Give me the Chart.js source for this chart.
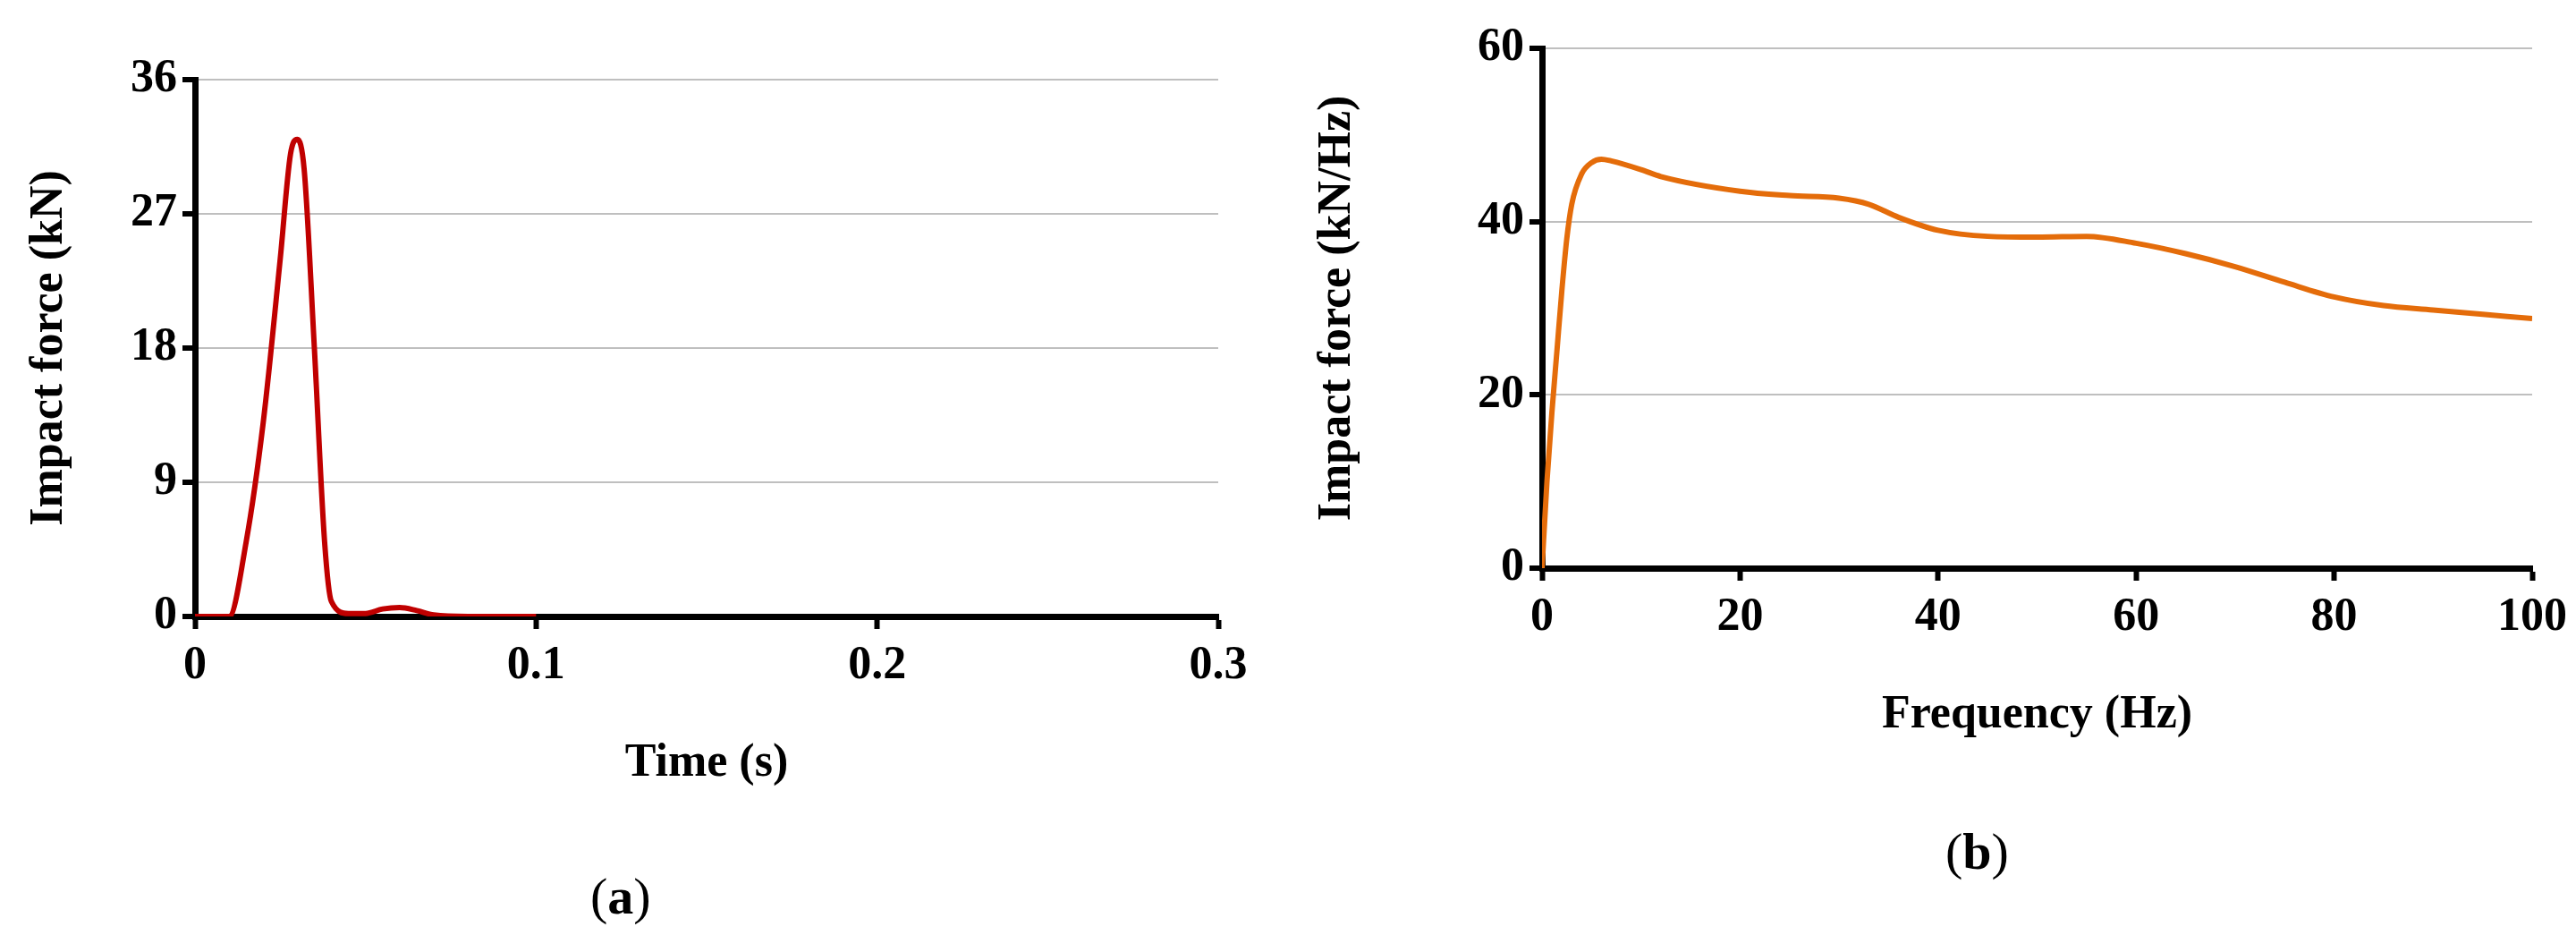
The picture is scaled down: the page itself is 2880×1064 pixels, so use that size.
<!DOCTYPE html>
<html>
<head>
<script src="https://cdn.jsdelivr.net/npm/chart.js@4"></script>
<style>
body{margin:0;background:#fff;width:2880px;height:1064px;position:relative;overflow:hidden}
.pane{position:absolute;top:0;width:1440px;height:1064px}
.cap{position:absolute;font:58px "Liberation Serif";color:#000}
</style>
</head>
<body>
<div class="pane" style="left:0"><canvas id="ca"></canvas></div>
<div class="pane" style="left:1440px"><canvas id="cb"></canvas></div>
<div class="cap" style="left:660px;top:968px">(<b>a</b>)</div>
<div class="cap" style="left:2175px;top:918px">(<b>b</b>)</div>
<script>
// panel (a): time history
const timeS = [0, 0.01, 0.015, 0.02, 0.025, 0.028, 0.03, 0.032, 0.035, 0.038, 0.04, 0.045, 0.05, 0.055, 0.06, 0.065, 0.07, 0.08, 0.1];
const forceKN = [0, 0, 5, 13, 24, 31, 32, 30, 18, 5, 1, 0.2, 0.2, 0.5, 0.6, 0.4, 0.1, 0, 0];
const timeTicks = [0, 0.1, 0.2, 0.3];
const forceTicks = [0, 9, 18, 27, 36];

// panel (b): spectrum
const freqHz = [0, 0.5, 1, 1.5, 2, 2.5, 3, 4, 5, 6, 7, 10, 12, 20, 25, 30, 33, 36, 40, 45, 50, 55, 60, 65, 70, 75, 80, 85, 90, 95, 100];
const spectrum = [0, 10, 18, 25, 32, 38, 42, 45.5, 46.8, 47.2, 47, 46, 45.2, 43.5, 43, 42.7, 42, 40.5, 39, 38.3, 38.2, 38.3, 37.5, 36.3, 34.8, 33, 31.3, 30.3, 29.8, 29.3, 28.8];
const freqTicks = [0, 20, 40, 60, 80, 100];
const specTicks = [0, 20, 40, 60];

Chart.defaults.font.family = '"Liberation Serif"';
Chart.defaults.font.weight = 'bold';
Chart.defaults.font.size = 52;
Chart.defaults.color = '#000';

function makeChart(id, xs, ys, color, xr, yr, xT, yT, xTitle, yTitle, pad, yW) {
	return new Chart(document.getElementById(id), {
		type: 'scatter',
		data: {datasets: [{
			data: xs.map((x, i) => ({x: x, y: ys[i]})),
			showLine: true, borderColor: color, borderWidth: 6,
			pointRadius: 0, cubicInterpolationMode: 'monotone'
		}]},
		options: {
			responsive: true, maintainAspectRatio: false, animation: false,
			layout: {padding: pad},
			plugins: {legend: {display: false}, tooltip: {enabled: false}},
			scales: {
				x: {
					type: 'linear', min: xr[0], max: xr[1],
					afterBuildTicks: a => { a.ticks = xT.map(v => ({value: v})); },
					afterFit: a => { a.height = 200; },
					border: {color: '#000', width: 7},
					grid: {drawOnChartArea: false, tickLength: 14, tickColor: '#000', tickWidth: 6},
					ticks: {padding: 10},
					title: {display: true, text: xTitle, padding: {top: 26}}
				},
				y: {
					min: yr[0], max: yr[1],
					afterBuildTicks: a => { a.ticks = yT.map(v => ({value: v})); },
					afterFit: a => { a.width = yW; },
					border: {color: '#000', width: 7},
					grid: {color: '#bfbfbf', lineWidth: 2, tickLength: 14, tickColor: '#000', tickWidth: 6},
					ticks: {padding: 6},
					title: {display: true, text: yTitle, padding: {bottom: 14}}
				}
			}
		}
	});
}

makeChart('ca', timeS, forceKN, '#c00000', [0, 0.3], [0, 36], timeTicks, forceTicks,
	'Time (s)', 'Impact force (kN)', {top: 89, left: 20, right: 78, bottom: 175}, 198);
makeChart('cb', freqHz, spectrum, '#e46c0a', [0, 100], [0, 60], freqTicks, specTicks,
	'Frequency (Hz)', 'Impact force (kN/Hz)', {top: 54, left: 20, right: 44, bottom: 229}, 264);
</script>
</body>
</html>
